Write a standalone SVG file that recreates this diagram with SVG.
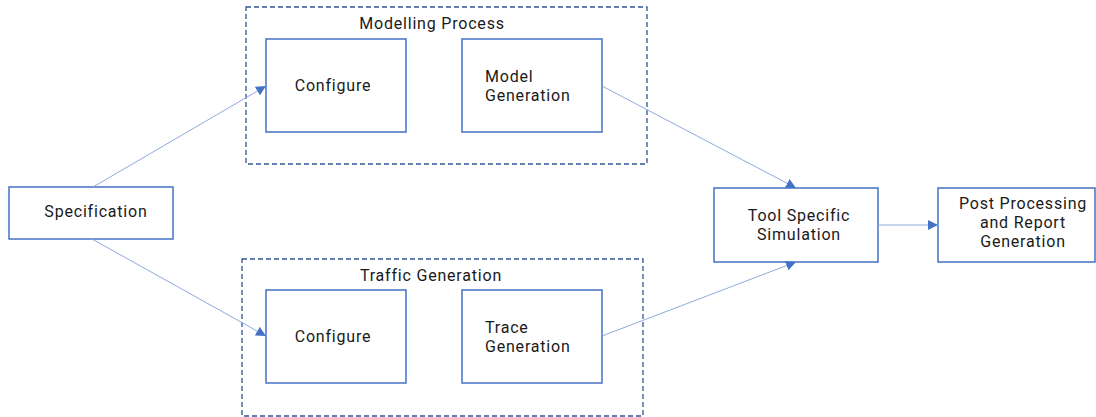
<svg xmlns="http://www.w3.org/2000/svg" width="1096" height="417" viewBox="0 0 1096 417">
<defs>
<style>
.box{fill:#fff;stroke:#4472c4;stroke-width:1.5}
.grp{fill:none;stroke:#2f5597;stroke-width:1.3;stroke-dasharray:5,3}
.t{font-family:Roboto,"Open Sans","Liberation Sans",sans-serif;font-size:16px;letter-spacing:0.8px;fill:#1a1a1a}
.c{text-anchor:middle}
.ln{stroke:#8faadc;stroke-width:1;fill:none;marker-end:url(#ah)}
</style>
<marker id="ah" viewBox="0 0 10 10" refX="10" refY="5" markerWidth="10" markerHeight="10" markerUnits="userSpaceOnUse" orient="auto">
<path d="M0,0 L10,5 L0,10 z" fill="#4472c4"/>
</marker>
</defs>
<rect width="1096" height="417" fill="#fff"/>
<g id="modelling-process">
<rect class="grp" x="246" y="7" width="401" height="157"/>
<text class="t c" x="432" y="29">Modelling Process</text>
</g>
<g id="traffic-generation">
<rect class="grp" x="242" y="259" width="401" height="157"/>
<text class="t c" x="431" y="281">Traffic Generation</text>
</g>
<g id="configure1">
<rect class="box" x="266" y="39" width="140" height="93"/>
<text class="t c" x="333" y="91">Configure</text>
</g>
<g id="model-generation">
<rect class="box" x="462" y="39" width="140" height="93"/>
<text class="t" x="485" y="82">Model</text>
<text class="t" x="485" y="101">Generation</text>
</g>
<g id="configure2">
<rect class="box" x="266" y="290" width="140" height="93"/>
<text class="t c" x="333" y="342">Configure</text>
</g>
<g id="trace-generation">
<rect class="box" x="462" y="290" width="140" height="93"/>
<text class="t" x="485" y="333">Trace</text>
<text class="t" x="485" y="352">Generation</text>
</g>
<g id="specification">
<rect class="box" x="9" y="187" width="164" height="52"/>
<text class="t c" x="96" y="217">Specification</text>
</g>
<g id="tool-specific-simulation">
<rect class="box" x="714" y="188" width="164" height="74"/>
<text class="t c" x="799" y="221">Tool Specific</text>
<text class="t c" x="799" y="240">Simulation</text>
</g>
<g id="post-processing">
<rect class="box" x="938" y="188" width="157" height="74"/>
<text class="t c" x="1023" y="209">Post Processing</text>
<text class="t c" x="1023" y="228">and Report</text>
<text class="t c" x="1023" y="247">Generation</text>
</g>
<g id="connectors">
<line class="ln" x1="93" y1="187" x2="266" y2="86"/>
<line class="ln" x1="92" y1="239" x2="266" y2="336"/>
<line class="ln" x1="602" y1="86" x2="796" y2="188"/>
<line class="ln" x1="602" y1="336" x2="796" y2="262"/>
<line class="ln" x1="878" y1="225" x2="938" y2="225"/>
</g>
</svg>
